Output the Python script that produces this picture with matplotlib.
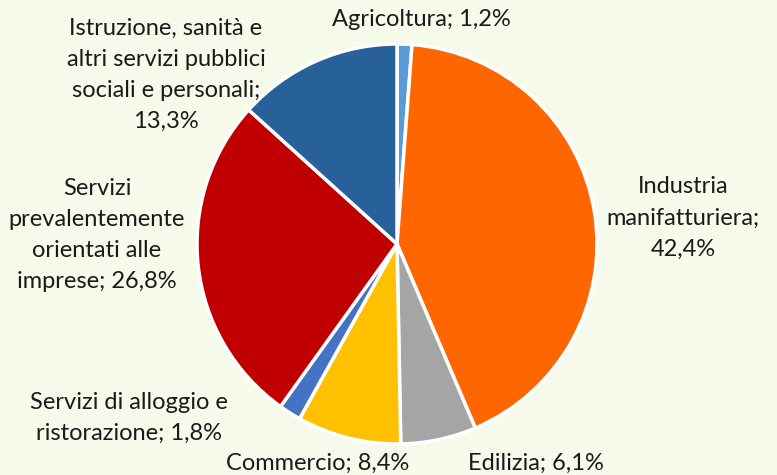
import matplotlib
matplotlib.use("Agg")
import matplotlib.pyplot as plt

categories = ["Agricoltura", "Industria\nmanifatturiera", "Edilizia", "Commercio",
              "Servizi di alloggio e\nristorazione", "Servizi\nprevalentemente\norientati alle\nimprese",
              "Istruzione, sanità e\naltri servizi pubblici\nsociali e personali"]
values = [1.2, 42.4, 6.1, 8.4, 1.8, 26.8, 13.3]
colors = ["#5B9BD5", "#FF6600", "#A5A5A5", "#FFC000", "#4472C4", "#C00000", "#28619A"]
label_texts = ["Agricoltura; 1,2%", "Industria\nmanifatturiera;\n42,4%", "Edilizia; 6,1%",
               "Commercio; 8,4%", "Servizi di alloggio e\nristorazione; 1,8%",
               "Servizi\nprevalentemente\norientati alle\nimprese; 26,8%",
               "Istruzione, sanità e\naltri servizi pubblici\nsociali e personali;\n13,3%"]
label_pos = [(421, 20), (683, 218), (536, 463), (318, 463), (129, 418), (97, 235), (166, 75)]

W, H = 777, 475
bg = "#F5FAEA"
fig = plt.figure(figsize=(W / 100, H / 100), dpi=100, facecolor=bg)
ax = fig.add_axes([0, 0, 1, 1])
ax.set_facecolor(bg)

ax.pie(values, colors=colors, startangle=90, counterclock=False,
       center=(397, H - 244), radius=200, frame=True,
       wedgeprops=dict(edgecolor="white", linewidth=2.5))
ax.set_xlim(0, W)
ax.set_ylim(0, H)
ax.set_aspect("equal")
ax.axis("off")

for txt, (px, py) in zip(label_texts, label_pos):
    ax.text(px, H - py, txt, ha="center", va="center", fontsize=17,
            family=["Lato", "DejaVu Sans"], color="#1a1a1a", linespacing=1.6)

fig.savefig("out.png", dpi=100, facecolor=bg)
